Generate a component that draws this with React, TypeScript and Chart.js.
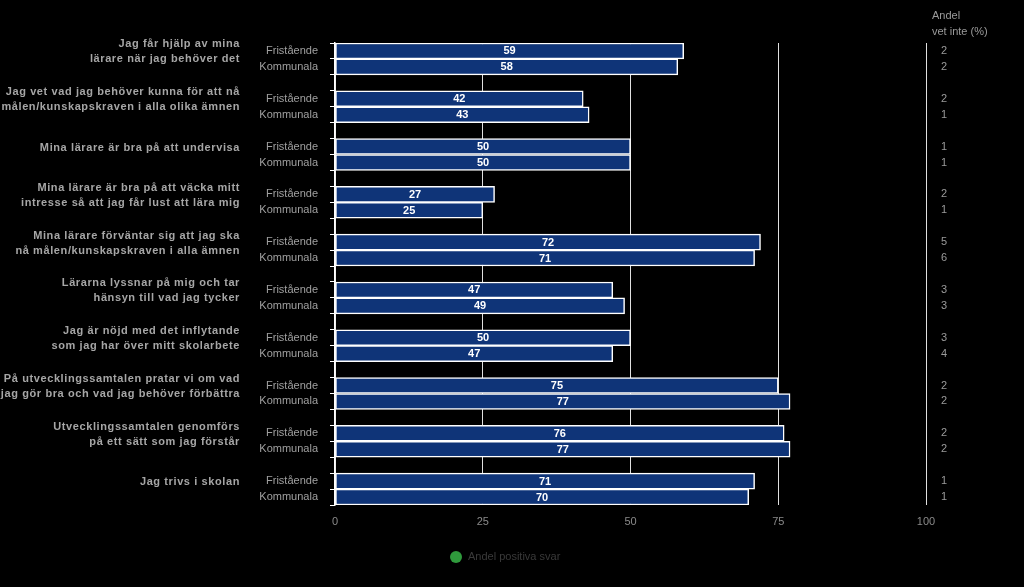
import React, { useEffect, useRef } from "react";
import { Chart, registerables } from "chart.js";

Chart.register(...registerables);

const questions: string[][] = [
  ["Jag får hjälp av mina", "lärare när jag behöver det"],
  ["Jag vet vad jag behöver kunna för att nå", "målen/kunskapskraven i alla olika ämnen"],
  ["Mina lärare är bra på att undervisa"],
  ["Mina lärare är bra på att väcka mitt", "intresse så att jag får lust att lära mig"],
  ["Mina lärare förväntar sig att jag ska", "nå målen/kunskapskraven i alla ämnen"],
  ["Lärarna lyssnar på mig och tar", "hänsyn till vad jag tycker"],
  ["Jag är nöjd med det inflytande", "som jag har över mitt skolarbete"],
  ["På utvecklingssamtalen pratar vi om vad", "jag gör bra och vad jag behöver förbättra"],
  ["Utvecklingssamtalen genomförs", "på ett sätt som jag förstår"],
  ["Jag trivs i skolan"],
];
const schoolTypes = ["Fristående", "Kommunala"];
const fristaende = [59, 42, 50, 27, 72, 47, 50, 75, 76, 71];
const kommunala = [58, 43, 50, 25, 71, 49, 47, 77, 77, 70];
const vetInteFristaende = [2, 2, 1, 2, 5, 3, 3, 2, 2, 1];
const vetInteKommunala = [2, 1, 1, 1, 6, 3, 4, 2, 2, 1];
const xTickValues = [0, 25, 50, 75, 100];
const vetInteHeader = ["Andel", "vet inte (%)"];
const legendLabel = "Andel positiva svar";

// Build slot table: Fristående, Kommunala, blank per question
const slotLabels: string[] = [];
const slotValues: (number | null)[] = [];
const slotVetInte: (number | null)[] = [];
const firstSlotOfGroup: number[] = [];
questions.forEach((_, i) => {
  firstSlotOfGroup.push(slotLabels.length);
  slotLabels.push(schoolTypes[0]);
  slotValues.push(fristaende[i]);
  slotVetInte.push(vetInteFristaende[i]);
  slotLabels.push(schoolTypes[1]);
  slotValues.push(kommunala[i]);
  slotVetInte.push(vetInteKommunala[i]);
  if (i < questions.length - 1) {
    slotLabels.push("");
    slotValues.push(null);
    slotVetInte.push(null);
  }
});

const FONT = '"Liberation Sans", Arial, sans-serif';

const overlayPlugin = {
  id: "overlay",
  beforeDraw(chart: any) {
    const ctx = chart.ctx;
    ctx.save();
    ctx.fillStyle = "#000000";
    ctx.fillRect(0, 0, chart.width, chart.height);
    ctx.restore();
  },
  afterDatasetsDraw(chart: any) {
    const ctx = chart.ctx;
    const meta = chart.getDatasetMeta(0);
    ctx.save();
    ctx.font = `bold 11px ${FONT}`;
    ctx.fillStyle = "#ffffff";
    ctx.textAlign = "center";
    ctx.textBaseline = "middle";
    meta.data.forEach((bar: any, idx: number) => {
      const v = slotValues[idx];
      if (v == null) return;
      ctx.fillText(String(v), (bar.x + bar.base) / 2, bar.y + 0.5);
    });
    ctx.restore();
  },
  afterDraw(chart: any) {
    const ctx = chart.ctx;
    const y = chart.scales.y;
    ctx.save();
    // question labels
    ctx.font = `bold 11px ${FONT}`;
    ctx.fillStyle = "#a6a6a6";
    ctx.textAlign = "right";
    ctx.textBaseline = "middle";
    try {
      (ctx as any).letterSpacing = "0.6px";
    } catch (e) {}
    questions.forEach((lines, i) => {
      const py = y.getPixelForValue(firstSlotOfGroup[i]);
      if (lines.length === 1) {
        ctx.fillText(lines[0], 240, py + 1);
      } else {
        ctx.fillText(lines[0], 240, py - 6.5);
        ctx.fillText(lines[1], 240, py + 8.5);
      }
    });
    try {
      (ctx as any).letterSpacing = "0px";
    } catch (e) {}
    // vet inte column
    ctx.font = `11px ${FONT}`;
    ctx.fillStyle = "#9a9a9a";
    ctx.textAlign = "left";
    ctx.fillText(vetInteHeader[0], 932, 16);
    ctx.fillText(vetInteHeader[1], 932, 32);
    ctx.textAlign = "center";
    slotVetInte.forEach((v, idx) => {
      if (v == null) return;
      ctx.fillText(String(v), 944, y.getPixelForValue(idx));
    });
    // legend
    ctx.beginPath();
    ctx.arc(456, 557, 6, 0, Math.PI * 2);
    ctx.fillStyle = "#2f9a3c";
    ctx.fill();
    ctx.font = `11px ${FONT}`;
    ctx.fillStyle = "#3a3a3a";
    ctx.textAlign = "left";
    ctx.fillText(legendLabel, 468, 557);
    ctx.restore();
  },
};

export default function App() {
  const canvasRef = useRef<HTMLCanvasElement | null>(null);
  useEffect(() => {
    document.body.style.margin = "0";
    document.body.style.background = "#000";
    const chart = new Chart(canvasRef.current as HTMLCanvasElement, {
      type: "bar",
      data: {
        labels: slotLabels,
        datasets: [
          {
            label: legendLabel,
            data: slotValues,
            backgroundColor: "#0f3478",
            borderColor: "#ffffff",
            borderWidth: 1.5,
            borderSkipped: false,
            barPercentage: 1,
            categoryPercentage: 1,
          },
        ],
      },
      options: {
        indexAxis: "y",
        animation: false,
        responsive: false,
        maintainAspectRatio: false,
        layout: { padding: { top: 43, right: 98, left: 0, bottom: 0 } },
        plugins: {
          legend: { display: false },
          tooltip: { enabled: false },
        },
        scales: {
          x: {
            type: "linear",
            min: 0,
            max: 100,
            afterBuildTicks: (scale: any) => {
              scale.ticks = xTickValues.map((v) => ({ value: v }));
            },
            afterFit: (scale: any) => {
              scale.height = 82;
            },
            grid: {
              color: "#e0e0e0",
              lineWidth: 1,
              drawTicks: false,
            },
            border: { display: false },
            ticks: {
              color: "#8a8a8a",
              font: { family: FONT, size: 11 },
              padding: 10,
            },
          },
          y: {
            type: "category",
            offset: true,
            afterFit: (scale: any) => {
              scale.width = 335;
            },
            grid: {
              offset: true,
              drawOnChartArea: false,
              drawTicks: true,
              tickLength: 5,
              color: "#ffffff",
              lineWidth: 1,
            },
            border: { display: true, color: "#ffffff", width: 1.5 },
            ticks: {
              color: "#a0a0a0",
              font: { family: FONT, size: 11 },
              padding: 12,
              autoSkip: false,
            },
          },
        },
      },
      plugins: [overlayPlugin],
    } as any);
    return () => chart.destroy();
  }, []);
  return (
    <div style={{ position: "fixed", left: 0, top: 0, width: 1024, height: 587, background: "#000" }}>
      <canvas ref={canvasRef} width={1024} height={587} style={{ width: 1024, height: 587, display: "block" }} />
    </div>
  );
}
